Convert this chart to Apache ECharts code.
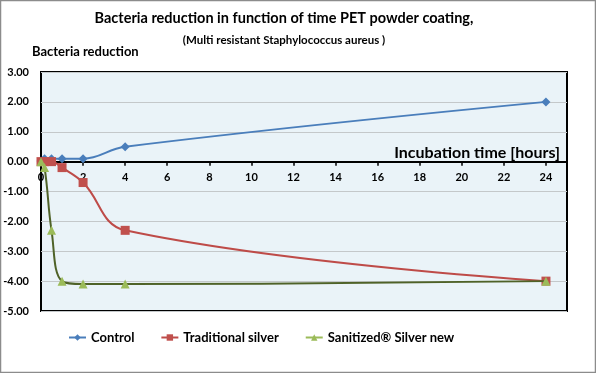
<!DOCTYPE html>
<html><head><meta charset="utf-8">
<script src="https://cdn.jsdelivr.net/npm/echarts@6/dist/echarts.min.js"></script>
<style>html,body{margin:0;padding:0;background:#fff}#c{width:596px;height:373px}</style>
</head><body><div id="c"></div>
<script>
const hours = [0, 0.17, 0.5, 1, 2, 4, 24];
const control = [0.02, 0.1, 0.1, 0.1, 0.1, 0.5, 2.0];
const traditional = [0, 0, 0, -0.2, -0.7, -2.3, -4.0];
const sanitized = [0, -0.2, -2.3, -4.0, -4.1, -4.1, -4.0];
const seriesNames = ['Control', 'Traditional silver', 'Sanitized® Silver new'];
const titleText = 'Bacteria reduction in function of time PET powder coating,';
const subtitleText = '(Multi resistant Staphylococcus aureus )';
const yName = 'Bacteria reduction';
const xName = 'Incubation time [hours]';
const yMin = -5, yMax = 3;

const FONT = 'Lato, "Open Sans", sans-serif';
const GRID = {left: 41, right: 29, top: 72, bottom: 62};
const H = 373;
const gridH = H - GRID.top - GRID.bottom;
const zeroOffset = gridH * (0 - yMin) / (yMax - yMin);
const pair = (xs, ys) => xs.map((x, i) => [x, ys[i]]);
const chart = echarts.init(document.getElementById('c'));
chart.setOption({
  animation: false,
  textStyle: {fontFamily: FONT},
  graphic: [{type: 'rect', shape: {x: 0.5, y: 0.5, width: 595, height: 372}, style: {fill: 'none', stroke: '#8c8c8c', lineWidth: 1.5}, z: -1}],
  title: [
    {text: titleText, left: 284, top: 11, padding: 0, textAlign: 'center', textStyle: {fontFamily: FONT, fontWeight: 'bold', fontSize: 14.5, color: '#000'}},
    {text: subtitleText, left: 284, top: 34, padding: 0, textAlign: 'center', textStyle: {fontFamily: FONT, fontWeight: 'bold', fontSize: 11.5, color: '#000'}},
    {text: yName, left: 32, top: 45, padding: 0, textStyle: {fontFamily: FONT, fontWeight: 'bold', fontSize: 13, color: '#000'}}
  ],
  grid: Object.assign({show: true, backgroundColor: '#EAF3F8', borderColor: '#000', borderWidth: 2}, GRID),
  legend: {
    bottom: 29, left: 68, itemGap: 26, itemWidth: 17, itemHeight: 8, padding: 0,
    textStyle: {fontFamily: FONT, fontWeight: 'bold', fontSize: 13, color: '#000'},
    data: [
      {name: seriesNames[0]},
      {name: seriesNames[1]},
      {name: seriesNames[2], lineStyle: {color: '#9BBB59'}}
    ]
  },
  xAxis: {
    type: 'value', min: 0, max: 25, interval: 2,
    position: 'bottom', offset: -zeroOffset,
    name: xName, nameLocation: 'end', nameGap: -7,
    nameTextStyle: {fontFamily: FONT, fontWeight: 'bold', fontSize: 16, color: '#000', align: 'right', verticalAlign: 'bottom', padding: [0, 0, 1, 0]},
    axisLine: {onZero: false, lineStyle: {color: '#000', width: 2}},
    axisTick: {show: true, length: 4, lineStyle: {color: '#000', width: 1.5}},
    axisLabel: {showMaxLabel: false, fontFamily: FONT, fontWeight: 'bold', fontSize: 11, color: '#000', margin: 10},
    splitLine: {show: false}
  },
  yAxis: {
    type: 'value', min: yMin, max: yMax, interval: 1,
    axisLine: {show: false}, axisTick: {show: false},
    axisLabel: {formatter: v => v.toFixed(2), fontFamily: FONT, fontWeight: 'bold', fontSize: 11, color: '#000', margin: 12},
    splitLine: {lineStyle: {color: '#C4C8CA', width: 1}}
  },
  series: [
    {name: seriesNames[0], type: 'line', smooth: 0.4, data: pair(hours, control),
     symbol: 'diamond', symbolSize: 9, itemStyle: {color: '#4A7EBB'}, lineStyle: {color: '#4A7EBB', width: 2}, z: 3},
    {name: seriesNames[1], type: 'line', smooth: 0.4, data: pair(hours, traditional),
     symbol: 'rect', symbolSize: 9, itemStyle: {color: '#C0504D'}, lineStyle: {color: '#BE4B48', width: 2}, z: 4},
    {name: seriesNames[2], type: 'line', smooth: 0.4, data: pair(hours, sanitized),
     symbol: 'triangle', symbolSize: 9, itemStyle: {color: '#9BBB59'}, lineStyle: {color: '#4F6228', width: 2}, z: 5}
  ]
});
</script></body></html>
